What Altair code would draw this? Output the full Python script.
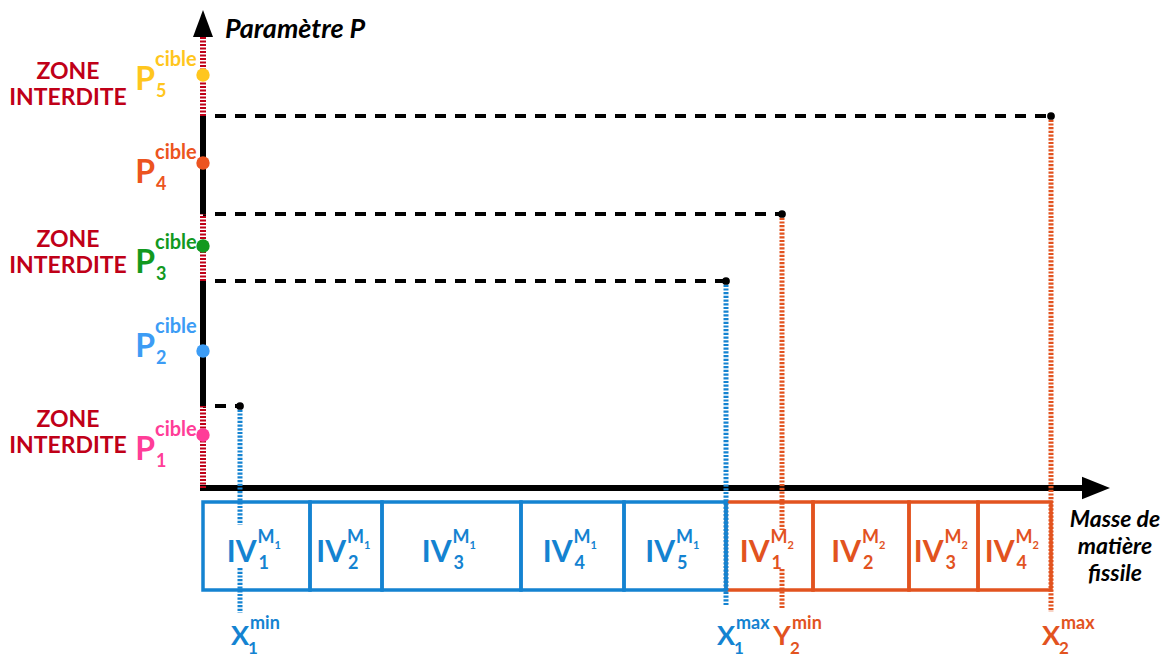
import altair as alt
import pandas as pd

FONT = "Lato"
BLUE = "#1483D1"
ORANGE = "#E2531F"
DARKRED = "#C00018"

# ---------------- data (x: masse de matière fissile, y: paramètre P) ----------------
target_names = ["1", "2", "3", "4", "5"]
target_p = [0.53, 1.37, 2.42, 3.25, 4.13]
target_colors = ["#FF3D98", "#3C9CF5", "#12991F", "#EC5420", "#FFC61E"]
target_label_p = [0.38, 1.41, 2.25, 3.15, 4.08]

threshold_p = [0.82, 2.07, 2.74, 3.72]
threshold_x = [0.37, 5.23, 5.79, 8.48]
threshold_letter = ["X", "X", "Y", "X"]
threshold_sub = ["1", "1", "2", "2"]
threshold_sup = ["min", "max", "min", "max"]
threshold_colors = [BLUE, BLUE, ORANGE, ORANGE]
drop_bottom = [-1.25, -1.17, -1.20, -1.24]
drop_gap_top = [-0.37, None, -0.42, None]
drop_gap_bottom = [-0.80, None, -0.81, None]

axis_top = 4.51
axis_x_start = -0.03
axis_x_end = 8.82
arrow_up_p = 4.645
arrow_right_x = 8.93

zone_label_x = -1.35
zone_label_p = [0.68, 2.48, 4.16]

m1_edges = [0.0, 1.07, 1.79, 3.18, 4.21, 5.23]
m2_edges = [5.23, 6.10, 7.06, 7.75, 8.48]
box_top = -0.14
box_bottom = -1.02

title_y_text = "Paramètre P"
title_y_pos = (0.22, 4.58)
title_x_lines = ["Masse de", "matière", "fissile"]
title_x_pos_x = 9.12
title_x_pos_y = [-0.32, -0.59, -0.86]

# ---------------- scales ----------------
H = 649
xs = alt.Scale(domain=[-1.95, 9.63], nice=False, zero=False)
ys = alt.Scale(domain=[4.80 - H / 100.0, 4.80], nice=False, zero=False)


def X(f="x"):
    return alt.X(f"{f}:Q", scale=xs, axis=None)


def Y(f="y"):
    return alt.Y(f"{f}:Q", scale=ys, axis=None)


def rules(df, **props):
    enc = dict(x=X("x"), y=Y("y"), color=alt.Color("c:N", scale=None))
    if "x2" in df:
        enc["x2"] = alt.X2("x2:Q")
    if "y2" in df:
        enc["y2"] = alt.Y2("y2:Q")
    return alt.Chart(df).mark_rule(**props).encode(**enc)


def texts(df, **props):
    base = dict(font=FONT, fontWeight="bold")
    base.update(props)
    return alt.Chart(df).mark_text(**base).encode(
        x=X("x"), y=Y("y"), text="t:N", color=alt.Color("c:N", scale=None)
    )


# ---------------- boxes ----------------
rows = []
for edges, col, tag in [(m2_edges, ORANGE, "2"), (m1_edges, BLUE, "1")]:
    for i in range(len(edges) - 1):
        rows.append(dict(x=edges[i], x2=edges[i + 1], y=box_top, y2=box_bottom,
                         c=col, n=str(i + 1), m=tag))
boxes = pd.DataFrame(rows)
boxes["xc"] = (boxes["x"] + boxes["x2"]) / 2
boxes["yc"] = (boxes["y"] + boxes["y2"]) / 2

box_layer = alt.Chart(boxes).mark_rect(fillOpacity=0, strokeWidth=3.5).encode(
    x=X("x"), x2="x2:Q", y=Y("y"), y2="y2:Q", stroke=alt.Stroke("c:N", scale=None)
)

iv = pd.DataFrame(dict(x=boxes["xc"], y=boxes["yc"], c=boxes["c"]))
iv_main = texts(iv.assign(t="IV"), align="right", dx=0, dy=7, fontSize=30)
iv_sub = texts(iv.assign(t=boxes["n"]), align="left", dx=2, dy=18, fontSize=18)
iv_sup = texts(iv.assign(t="M"), align="left", dx=1, dy=-8, fontSize=18)
iv_sup_sub = texts(iv.assign(t=boxes["m"]), align="left", dx=18, dy=0, fontSize=11)

# ---------------- axes ----------------
xaxis = rules(pd.DataFrame(dict(x=[axis_x_start], x2=[axis_x_end], y=[0.0], c=["black"])),
              strokeWidth=6)
xarrow = alt.Chart(pd.DataFrame(dict(x=[arrow_right_x], y=[0.0]))).mark_point(
    shape="M1,0L-1,-0.8L-1,0.8Z", size=784, filled=True, color="black", opacity=1
).encode(x=X("x"), y=Y("y"))
yarrow = alt.Chart(pd.DataFrame(dict(x=[0.0], y=[arrow_up_p]))).mark_point(
    shape="M0,-1L0.74,1L-0.74,1Z", size=729, filled=True, color="black", opacity=1
).encode(x=X("x"), y=Y("y"))

bounds = [0.0] + threshold_p + [axis_top]
seg_rows = []
for i in range(len(bounds) - 1):
    seg_rows.append(dict(x=0.0, y=bounds[i], y2=bounds[i + 1],
                         forbidden=(i % 2 == 0)))
segs = pd.DataFrame(seg_rows)
allowed = rules(segs[~segs.forbidden].assign(c="black"), strokeWidth=6)
forbidden = rules(segs[segs.forbidden].assign(c=DARKRED), strokeWidth=6,
                  strokeDash=[2, 1.5])

# ---------------- thresholds ----------------
hd = pd.DataFrame(dict(x=[0.0] * 4, x2=threshold_x, y=threshold_p, c=["black"] * 4))
hdash = rules(hd, strokeWidth=4, strokeDash=[11, 9], strokeDashOffset=8)
enddots = alt.Chart(pd.DataFrame(dict(x=threshold_x, y=threshold_p))).mark_point(
    shape="circle", size=60, filled=True, color="black", opacity=1
).encode(x=X("x"), y=Y("y"))

drop_rows = []
for i in range(4):
    if drop_gap_top[i] is None:
        drop_rows.append(dict(x=threshold_x[i], y=threshold_p[i], y2=drop_bottom[i],
                              c=threshold_colors[i]))
    else:
        drop_rows.append(dict(x=threshold_x[i], y=threshold_p[i], y2=drop_gap_top[i],
                              c=threshold_colors[i]))
        drop_rows.append(dict(x=threshold_x[i], y=drop_gap_bottom[i], y2=drop_bottom[i],
                              c=threshold_colors[i]))
drops = rules(pd.DataFrame(drop_rows), strokeWidth=5, strokeDash=[2.2, 1.5])

th = pd.DataFrame(dict(x=threshold_x, y=[-1.49] * 4, c=threshold_colors))
th_main = texts(th.assign(t=threshold_letter), align="center", fontSize=27)
th_sup = texts(th.assign(t=threshold_sup), align="left", dx=10, dy=-13, fontSize=18)
th_sub = texts(th.assign(t=threshold_sub), align="left", dx=8, dy=12, fontSize=17)

# ---------------- targets ----------------
tg = pd.DataFrame(dict(x=[0.0] * 5, y=target_p, c=target_colors))
tdots = alt.Chart(tg).mark_point(shape="circle", size=180, filled=True, opacity=1).encode(
    x=X("x"), y=Y("y"), color=alt.Color("c:N", scale=None)
)
tl = pd.DataFrame(dict(x=[0.0] * 5, y=target_label_p, c=target_colors))
p_main = texts(tl.assign(t="P"), align="right", dx=-48, fontSize=32)
p_sup = texts(tl.assign(t="cible"), align="left", dx=-48, dy=-20, fontSize=20)
p_sub = texts(tl.assign(t=target_names), align="left", dx=-47, dy=12, fontSize=18)

zl = pd.DataFrame(dict(x=[zone_label_x] * 3, y=zone_label_p, c=[DARKRED] * 3))
zone1 = texts(zl.assign(t="ZONE"), align="center", fontSize=23)
zone2 = texts(zl.assign(t="INTERDITE"), align="center", dy=26, fontSize=23)

ty = texts(pd.DataFrame(dict(x=[title_y_pos[0]], y=[title_y_pos[1]], t=[title_y_text],
                             c=["black"])), align="left", fontSize=27, fontStyle="italic")
tx = texts(pd.DataFrame(dict(x=[title_x_pos_x] * 3, y=title_x_pos_y, t=title_x_lines,
                             c=["black"] * 3)), align="center", fontSize=23,
           fontStyle="italic")

chart = alt.layer(
    box_layer, xaxis, xarrow, hdash, drops, allowed, forbidden, yarrow, enddots, tdots,
    iv_main, iv_sub, iv_sup, iv_sup_sub, th_main, th_sup, th_sub,
    p_main, p_sup, p_sub, zone1, zone2, ty, tx,
).properties(
    width=1158, height=H, padding=0, autosize=alt.AutoSizeParams(type="none")
).configure_view(stroke=None)

chart.save("out.html", embed_options={"renderer": "svg", "actions": False})
